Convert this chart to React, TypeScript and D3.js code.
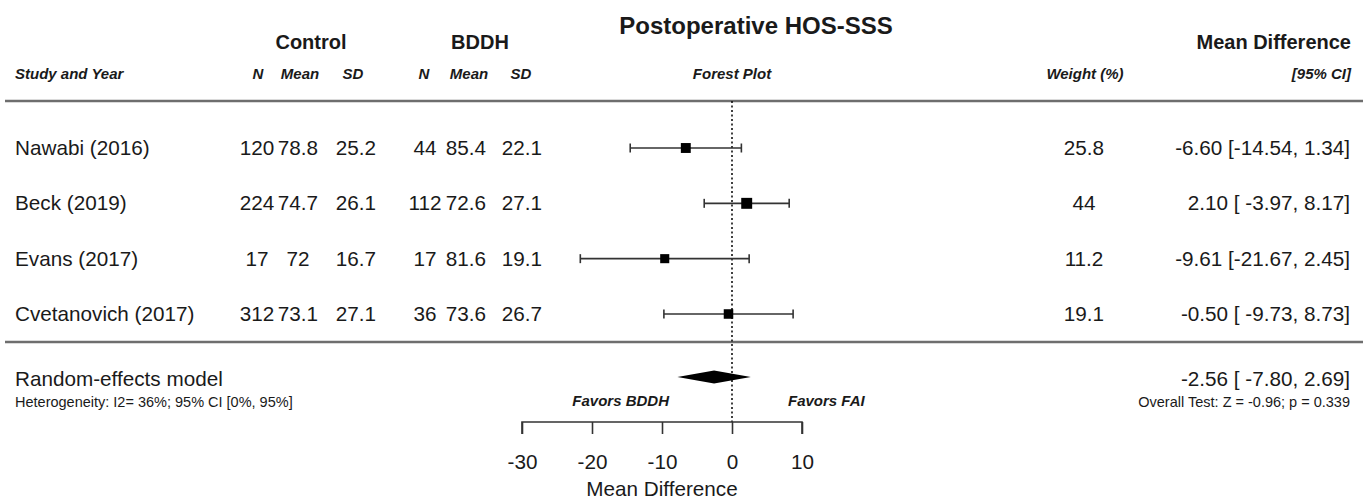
import React, { Component, createRef } from 'react'
import * as d3 from 'd3'

const studies = ["Nawabi (2016)", "Beck (2019)", "Evans (2017)", "Cvetanovich (2017)"];
const controlN = [120, 224, 17, 312];
const controlMean = [78.8, 74.7, 72, 73.1];
const controlSD = [25.2, 26.1, 16.7, 27.1];
const bddhN = [44, 112, 17, 36];
const bddhMean = [85.4, 72.6, 81.6, 73.6];
const bddhSD = [22.1, 27.1, 19.1, 26.7];
const weights = [25.8, 44, 11.2, 19.1];
const meanDiff = [-6.60, 2.10, -9.61, -0.50];
const ciLow = [-14.54, -3.97, -21.67, -9.73];
const ciHigh = [1.34, 8.17, 2.45, 8.73];
const pooled = [-2.56, -7.80, 2.69]; // estimate, lower, upper
const xTicks = [-30, -20, -10, 0, 10];

const W = 1363, H = 500;
const FONT = "'Liberation Sans', Arial, sans-serif";
const INK = "#1a1a1a";
const BODY = 20.7;

function fmtCI(m: number, lo: number, hi: number) {
  return m.toFixed(2) + " [" + lo.toFixed(2).padStart(6, " ") + ", " + hi.toFixed(2) + "]";
}

export default class App extends Component {
  svg = createRef<SVGSVGElement>();

  componentDidMount() {
    this.draw();
  }
  componentDidUpdate() {
    this.draw();
  }

  draw() {
    const node = this.svg.current;
    if (!node) return;
    node.innerHTML = '';
    const svg = d3.select(node)
      .attr("width", W)
      .attr("height", H)
      .style("font-family", FONT);

    svg.append("rect").attr("width", W).attr("height", H).attr("fill", "#fff");

    // forest plot scale
    const x = d3.scaleLinear().domain([-30, 10]).range([522, 802]);
    const y = d3.scalePoint<string>().domain(studies).range([148, 314]);
    const box = d3.scaleLinear().domain([10, 45]).range([9, 11]);

    const text = (tx: number, ty: number, s: string, size: number, opts: any = {}) =>
      svg.append("text")
        .attr("x", tx)
        .attr("y", ty)
        .attr("text-anchor", opts.anchor || "start")
        .attr("font-size", size)
        .attr("font-weight", opts.bold ? "bold" : "normal")
        .attr("font-style", opts.italic ? "italic" : "normal")
        .attr("fill", INK)
        .style("white-space", "pre")
        .text(s);

    // headers
    text(756, 34, "Postoperative HOS-SSS", 24, { anchor: "middle", bold: true });
    text(311, 49, "Control", 20, { anchor: "middle", bold: true });
    text(480, 49, "BDDH", 20, { anchor: "middle", bold: true });
    text(1351, 49, "Mean Difference", 20, { anchor: "end", bold: true });

    const sub = { bold: true, italic: true };
    text(15, 79, "Study and Year", 15, sub);
    text(258, 79, "N", 15, { ...sub, anchor: "middle" });
    text(300, 79, "Mean", 15, { ...sub, anchor: "middle" });
    text(353, 79, "SD", 15, { ...sub, anchor: "middle" });
    text(424, 79, "N", 15, { ...sub, anchor: "middle" });
    text(469, 79, "Mean", 15, { ...sub, anchor: "middle" });
    text(521, 79, "SD", 15, { ...sub, anchor: "middle" });
    text(x(0), 79, "Forest Plot", 15, { ...sub, anchor: "middle" });
    text(1085, 79, "Weight (%)", 15, { ...sub, anchor: "middle" });
    text(1351, 79, "[95% CI]", 15, { ...sub, anchor: "end" });

    // rules
    [101, 342].forEach(ly => {
      svg.append("line")
        .attr("x1", 5).attr("x2", W)
        .attr("y1", ly).attr("y2", ly)
        .attr("stroke", "#6e6e6e")
        .attr("stroke-width", 2.5);
    });

    // null line
    svg.append("line")
      .attr("x1", x(0)).attr("x2", x(0))
      .attr("y1", 101).attr("y2", 422)
      .attr("stroke", "#111")
      .attr("stroke-width", 1.6)
      .attr("stroke-dasharray", "2,2.5");

    // study rows
    studies.forEach((s, i) => {
      const cy = y(s)!;
      const by = cy + 7;
      text(15, by, s, BODY);
      text(257, by, String(controlN[i]), BODY, { anchor: "middle" });
      text(298, by, String(controlMean[i]), BODY, { anchor: "middle" });
      text(356, by, String(controlSD[i]), BODY, { anchor: "middle" });
      text(425, by, String(bddhN[i]), BODY, { anchor: "middle" });
      text(466, by, String(bddhMean[i]), BODY, { anchor: "middle" });
      text(522, by, String(bddhSD[i]), BODY, { anchor: "middle" });
      text(1084, by, String(weights[i]), BODY, { anchor: "middle" });
      text(1350, by, fmtCI(meanDiff[i], ciLow[i], ciHigh[i]), BODY, { anchor: "end" });

      const g = svg.append("g").attr("stroke", "#333").attr("stroke-width", 1.6);
      g.append("line")
        .attr("x1", x(ciLow[i])).attr("x2", x(ciHigh[i]))
        .attr("y1", cy).attr("y2", cy);
      [ciLow[i], ciHigh[i]].forEach(v => {
        g.append("line")
          .attr("x1", x(v)).attr("x2", x(v))
          .attr("y1", cy - 4.5).attr("y2", cy + 4.5);
      });
      const b = box(weights[i]);
      svg.append("rect")
        .attr("x", x(meanDiff[i]) - b / 2)
        .attr("y", cy - b / 2)
        .attr("width", b)
        .attr("height", b)
        .attr("fill", "#000");
    });

    // pooled estimate
    const dy = 377;
    const diamond = d3.line()([
      [x(pooled[1]), dy],
      [x(pooled[0]), dy - 6.5],
      [x(pooled[2]), dy],
      [x(pooled[0]), dy + 6.5],
    ]) + "Z";
    svg.append("path").attr("d", diamond).attr("fill", "#000");

    text(15, 386, "Random-effects model", BODY);
    text(15, 407, "Heterogeneity: I2= 36%; 95% CI [0%, 95%]", 14.5);
    text(1350, 386, fmtCI(pooled[0], pooled[1], pooled[2]), BODY, { anchor: "end" });
    text(1350, 407, "Overall Test: Z = -0.96; p = 0.339", 14.5, { anchor: "end" });

    text(x(-9), 406, "Favors BDDH", 15, { ...sub, anchor: "end" });
    text(x(8), 406, "Favors FAI", 15, sub);

    // axis
    const axis = svg.append("g")
      .attr("transform", "translate(0,422)")
      .call(d3.axisBottom(x).tickValues(xTicks).tickSize(12).tickPadding(20)
        .tickFormat(d => String(d)));
    axis.select(".domain")
      .attr("d", `M${x(-30)},12V0H${x(10)}V12`)
      .attr("stroke", "#333")
      .attr("stroke-width", 1.6);
    axis.selectAll(".tick line").attr("stroke", "#333").attr("stroke-width", 1.6);
    axis.selectAll(".tick text")
      .attr("font-size", BODY)
      .attr("font-family", FONT)
      .attr("fill", INK);

    text(x(-10), 496, "Mean Difference", BODY, { anchor: "middle" });
  }

  render() {
    return <div style={{ position: "absolute", left: 0, top: 0 }}>
      <svg ref={this.svg} style={{ display: "block" }} />
    </div>
  }
}
